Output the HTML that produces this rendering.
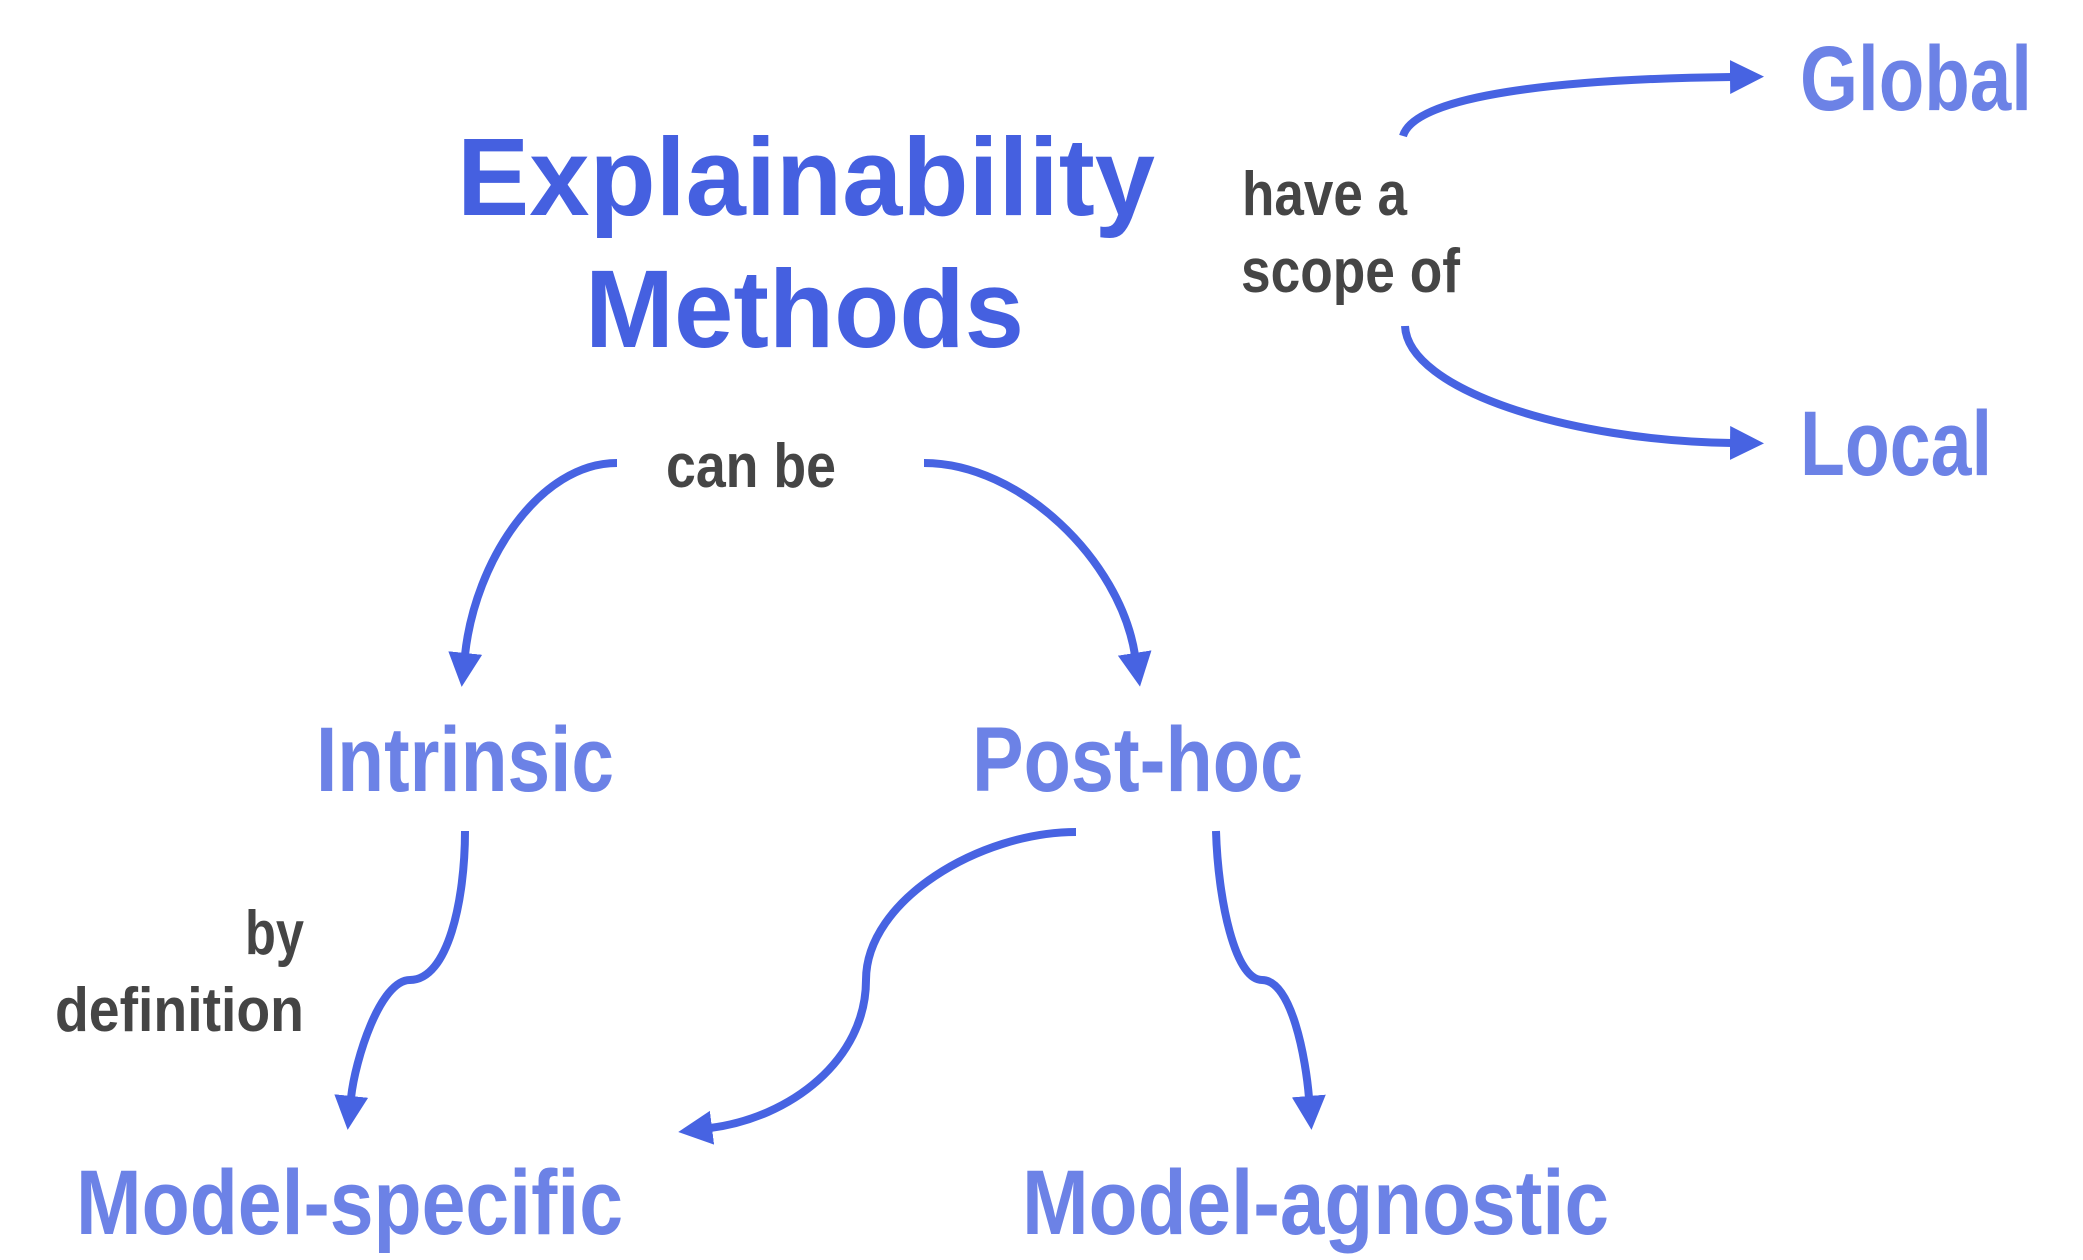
<!DOCTYPE html>
<html><head><meta charset="utf-8"><style>
html,body{margin:0;padding:0;background:#fff;}
svg{display:block;}
text{font-family:"Liberation Sans",Arial,sans-serif;font-weight:bold;}
</style></head><body>
<svg width="2083" height="1260" viewBox="0 0 2083 1260" xmlns="http://www.w3.org/2000/svg">
<defs>
<marker id="ah" markerUnits="userSpaceOnUse" markerWidth="40" markerHeight="40" refX="2" refY="17" orient="auto">
<polygon points="0,0 34,17 0,34" fill="#4763e2"/>
</marker>
</defs>
<g fill="none" stroke="#4763e2" stroke-width="8" stroke-linecap="butt">
<path d="M1403,136 C1415,95 1560,79 1732,77" marker-end="url(#ah)"/>
<path d="M1405,326 C1408,390 1570,441 1732,443" marker-end="url(#ah)"/>
<path d="M617,463 C540,463 475,560 465,655" marker-end="url(#ah)"/>
<path d="M924,463 C1020,463 1120,560 1135,655" marker-end="url(#ah)"/>
<path d="M465,831 C465,900 448,980 410,980 C380,980 355,1060 351,1098" marker-end="url(#ah)"/>
<path d="M1076,832 C980,832 866,900 866,980 C866,1060 790,1118 710,1128" marker-end="url(#ah)"/>
<path d="M1216,831 C1218,900 1235,980 1262,980 C1292,980 1306,1060 1309,1098" marker-end="url(#ah)"/>
</g>
<g fill="#4560e0" font-size="110">
<text x="457" y="215" textLength="698" lengthAdjust="spacingAndGlyphs">Explainability</text>
<text x="585" y="347" textLength="439" lengthAdjust="spacingAndGlyphs">Methods</text>
</g>
<g fill="#6c82e6" font-size="92">
<text x="1800" y="110" textLength="232" lengthAdjust="spacingAndGlyphs">Global</text>
<text x="1800" y="475" textLength="192" lengthAdjust="spacingAndGlyphs">Local</text>
<text x="316" y="791" textLength="298" lengthAdjust="spacingAndGlyphs">Intrinsic</text>
<text x="972" y="791" textLength="331" lengthAdjust="spacingAndGlyphs">Post-hoc</text>
<text x="76" y="1234" textLength="547" lengthAdjust="spacingAndGlyphs">Model-specific</text>
<text x="1022" y="1234" textLength="587" lengthAdjust="spacingAndGlyphs">Model-agnostic</text>
</g>
<g fill="#454545" font-size="62">
<text x="1242" y="215" textLength="165" lengthAdjust="spacingAndGlyphs">have a</text>
<text x="1241" y="292" textLength="219" lengthAdjust="spacingAndGlyphs">scope of</text>
<text x="666" y="487" textLength="170" lengthAdjust="spacingAndGlyphs">can be</text>
<text x="245" y="954" textLength="59" lengthAdjust="spacingAndGlyphs">by</text>
<text x="55" y="1031" textLength="249" lengthAdjust="spacingAndGlyphs">definition</text>
</g>
</svg>
</body></html>
